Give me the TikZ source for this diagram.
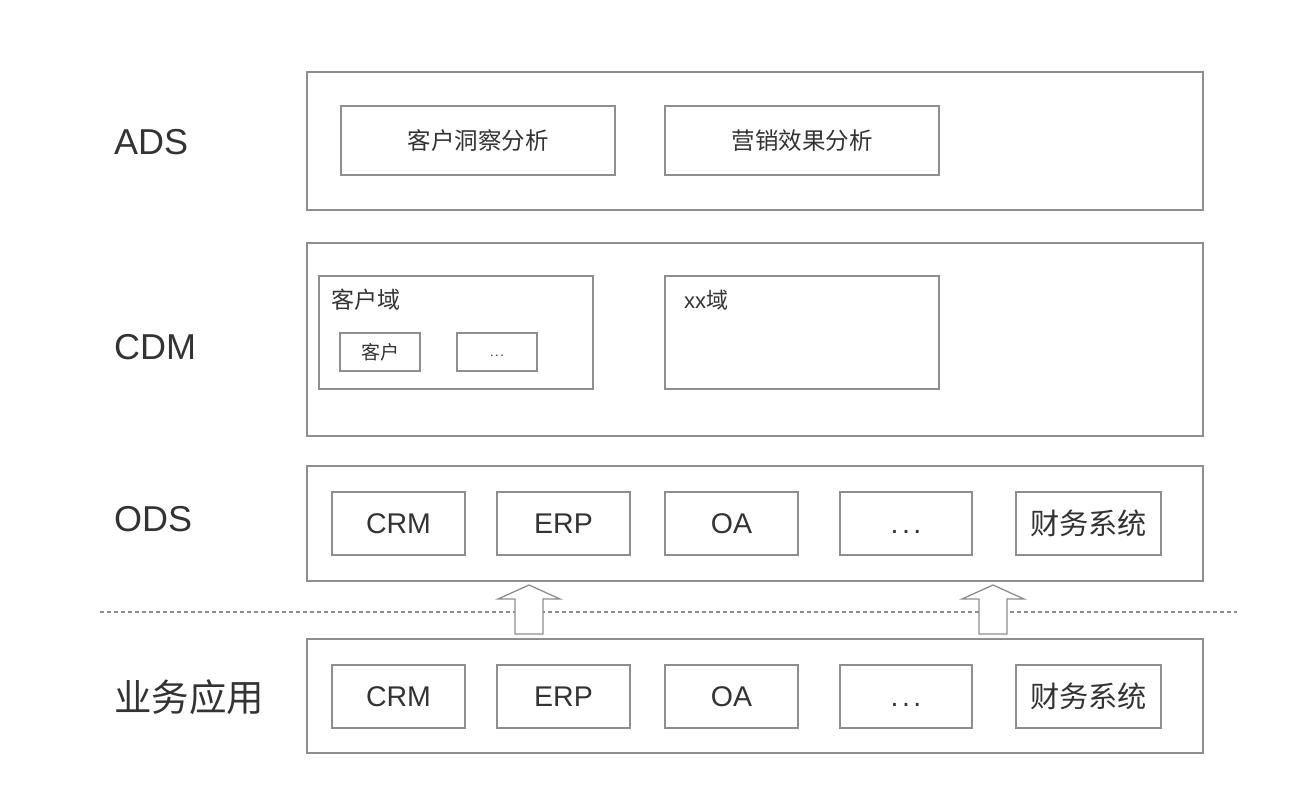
\documentclass[tikz,border=0pt]{standalone}
\usepackage{fontspec}
\setmainfont{Liberation Sans}
\newfontfamily\cjk{Noto Sans CJK SC}
\newcommand{\mydots}{\vphantom{A}.\hspace{0.12em}.\hspace{0.12em}.}
\begin{document}
\begin{tikzpicture}[x=1pt,y=-1pt,
  lay/.style={draw=linegray, line width=1.4pt, inner sep=0pt, outer sep=0pt, anchor=north west},
  item/.style={draw=linegray, line width=1.2pt, inner sep=0pt, outer sep=0pt, anchor=north west, text=textgray, font=\fontsize{28.5}{31}\selectfont},
  cjkitem/.style={item, font=\fontsize{29.2}{32}\selectfont\cjk},
  layerlabel/.style={anchor=west, text=textgray, font=\fontsize{36}{40}\selectfont, inner sep=0pt},
  uparrow/.style={draw=linegray, line width=1.3pt, fill=white, line join=miter},
]
\definecolor{linegray}{HTML}{8E8E8E}
\definecolor{textgray}{HTML}{333333}
\useasboundingbox (0,0) rectangle (1299,786);

% layer labels
\node[layerlabel] (lads) at (114,142) {ADS};
\node[layerlabel] (lcdm) at (114,347) {CDM};
\node[layerlabel] (lods) at (114,519) {ODS};
\node[layerlabel, font=\fontsize{37.5}{41}\selectfont] (lapp) at (114,697) {\cjk 业务应用};

% ADS layer
\node[lay, minimum width=896, minimum height=138] (ads) at (307,72) {};
\node[item, minimum width=274, minimum height=69, font=\fontsize{23.5}{26}\selectfont] (ads1) at (341,106) {\cjk 客户洞察分析};
\node[item, minimum width=274, minimum height=69, font=\fontsize{23.5}{26}\selectfont] (ads2) at (665,106) {\cjk 营销效果分析};

% CDM layer
\node[lay, minimum width=896, minimum height=193] (cdm) at (307,243) {};
\node[item, minimum width=274, minimum height=113] (dom1) at (319,276) {};
\node[anchor=west, inner sep=0pt, text=textgray, font=\fontsize{23}{26}\selectfont] (dom1t) at (331,300) {\cjk 客户域};
\node[item, minimum width=80, minimum height=38, font=\fontsize{19}{22}\selectfont] (dom1a) at (340,333) {\cjk 客户};
\node[item, minimum width=80, minimum height=38, font=\fontsize{13}{16}\selectfont] (dom1b) at (457,333) {\mydots};
\node[item, minimum width=274, minimum height=113] (dom2) at (665,276) {};
\node[anchor=west, inner sep=0pt, text=textgray, font=\fontsize{22}{25}\selectfont] (dom2t) at (684,300) {xx{\cjk 域}};

% ODS layer
\node[lay, minimum width=896, minimum height=115] (ods) at (307,466) {};
\node[item, minimum width=133, minimum height=63] (ods1) at (332,492) {CRM};
\node[item, minimum width=133, minimum height=63] (ods2) at (497,492) {ERP};
\node[item, minimum width=133, minimum height=63] (ods3) at (665,492) {OA};
\node[item, minimum width=132, minimum height=63] (ods4) at (840,492) {\mydots};
\node[cjkitem, minimum width=145, minimum height=63] (ods5) at (1016,492) {财务系统};

% dashed separator
\coordinate (dl) at (100,612);
\coordinate (dr) at (1237,612);
\draw[linegray, line width=1.1pt, dash pattern=on 4pt off 3pt] (dl) -- (dr);

% business application layer
\node[lay, minimum width=896, minimum height=114] (app) at (307,639) {};
\node[item, minimum width=133, minimum height=63] (app1) at (332,665) {CRM};
\node[item, minimum width=133, minimum height=63] (app2) at (497,665) {ERP};
\node[item, minimum width=133, minimum height=63] (app3) at (665,665) {OA};
\node[item, minimum width=132, minimum height=63] (app4) at (840,665) {\mydots};
\node[cjkitem, minimum width=145, minimum height=63] (app5) at (1016,665) {财务系统};

% block arrows
\coordinate (a1) at (529,634);
\coordinate (a2) at (993,634);
\foreach \c in {a1,a2}{
  \draw[uparrow] ([xshift=-14]\c) -- ++(0,-35) -- ++(-17,0) -- ++(31,-14) -- ++(31,14) -- ++(-17,0) -- ++(0,35) -- cycle;
}
\end{tikzpicture}
\end{document}
